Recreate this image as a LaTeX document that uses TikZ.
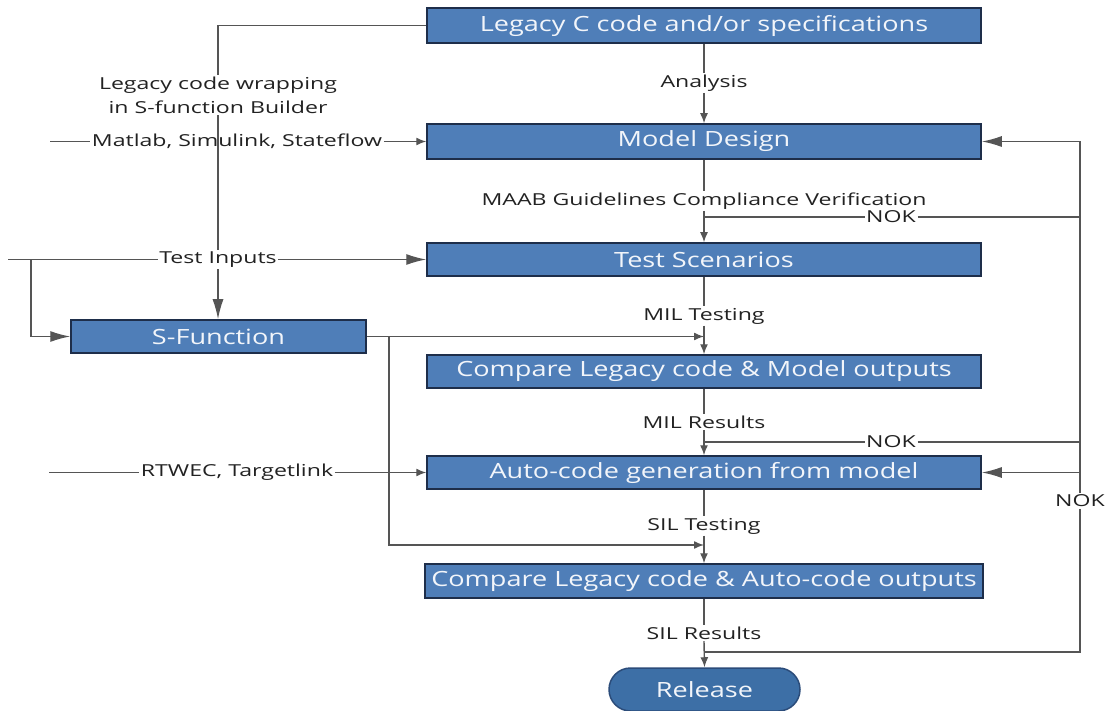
\documentclass[tikz,border=0pt]{standalone}
\usepackage{fontspec}
\setmainfont{Open Sans}
\newfontfamily\boxfont{Open Sans}[FakeStretch=1.29]
\newfontfamily\lblfont{Open Sans}[FakeStretch=1.4]
\usetikzlibrary{arrows.meta,calc}
\definecolor{boxblue}{HTML}{4F7EB8}
\definecolor{boxedge}{HTML}{1E2E4A}
\definecolor{relblue}{HTML}{3D6FA6}
\definecolor{reledge}{HTML}{2B4C7A}
\definecolor{linecol}{HTML}{555555}
\definecolor{labelcol}{HTML}{222222}
\definecolor{boxtext}{HTML}{F2F5FA}
\tikzset{
  blk/.style={draw=boxedge, line width=1.5pt, fill=boxblue, text=boxtext,
    font=\boxfont\fontsize{21}{25}\selectfont, minimum height=35, minimum width=554, inner sep=0pt},
  lbl/.style={fill=white, inner sep=1.5pt, text=labelcol, font=\lblfont\fontsize{16.5}{24}\selectfont},
  conn/.style={draw=linecol, line width=1.4pt},
  arr/.style={conn, -{Latex[length=10pt,width=8pt]}},
  arrB/.style={conn, -{Latex[length=20pt,width=11pt]}},
}
\begin{document}
\begin{tikzpicture}[x=1pt,y=-1pt]
\useasboundingbox (0,0) rectangle (1111,711);
% boxes
\node[blk] (legacy) at (704,25.5) {Legacy C code and/or specifications};
\node[blk] (model) at (704,141.5) {Model Design};
\node[blk, minimum height=33] (test) at (704,259.5) {Test Scenarios};
\node[blk, minimum height=33, minimum width=295] (sfun) at (218.5,336.5) {S-Function};
\node[blk, minimum height=33] (cmpm) at (704,371.5) {Compare Legacy code \& Model outputs};
\node[blk, minimum height=33] (auto) at (704,472.5) {Auto-code generation from model};
\node[blk, minimum height=34, minimum width=558] (cmpa) at (704,581) {Compare Legacy code \& Auto-code outputs};
\node[draw=reledge, line width=1.5pt, fill=relblue, text=boxtext, font=\boxfont\fontsize{21}{25}\selectfont,
      minimum width=191, minimum height=43, rounded corners=21.5pt, inner sep=0pt] (release) at (704.5,689.5) {Release};
% labels on centre line
\node[lbl] (ana) at (704,83) {Analysis};
\node[lbl] (maab) at (704,201) {MAAB Guidelines Compliance Verification};
\node[lbl] (milt) at (704,316) {MIL Testing};
\node[lbl] (milr) at (704,422) {MIL Results};
\node[lbl] (silt) at (704,526) {SIL Testing};
\node[lbl] (silr) at (704,633) {SIL Results};
% NOK labels
\node[lbl] (nok1) at (891,217) {NOK};
\node[lbl] (nok2) at (891,442) {NOK};
\node[lbl] (nok3) at (1080,501) {NOK};
% left labels
\node[lbl, align=center] (wrap) at (218,95) {Legacy code wrapping\\in S-function Builder};
\node[lbl] (tin) at (218,259.5) {Test Inputs};
\node[lbl] (matlab) at (237,141.5) {Matlab, Simulink, Stateflow};
\node[lbl] (rtw) at (237,472.5) {RTWEC, Targetlink};
% free ends and junctions
\coordinate (mStart) at (50,141.5);
\coordinate (tStart) at (8,259.5);
\coordinate (tBranch) at (31,259.5);
\coordinate (rStart) at (49,472.5);
\coordinate (sDown) at (389,336.5);
\coordinate (jSIL) at (704,545);
\coordinate (jRel) at (704,652);
\coordinate (rBot) at (1080,652);
% centre chain
\draw[conn] (legacy.south) -- (ana.north);
\draw[arr] (ana.south) -- (model.north);
\draw[conn] (model.south) -- (maab.north);
\draw[arr] (maab.south) -- (test.north);
\draw[conn] (test.south) -- (milt.north);
\draw[arr] (milt.south) -- (cmpm.north);
\draw[conn] (cmpm.south) -- (milr.north);
\draw[arr] (milr.south) -- (auto.north);
\draw[conn] (auto.south) -- (silt.north);
\draw[arr] (silt.south) -- (cmpa.north);
\draw[conn] (cmpa.south) -- (silr.north);
\draw[arr] (silr.south) -- (release.north);
% NOK loop on the right
\draw[arrB] (nok3.north) |- (model.east);
\draw[arrB] (auto.east -| nok3) -- (auto.east);
\draw[conn] (nok3.south) -- (rBot) -- (jRel);
\draw[conn] (nok1.east) -- (nok1.east -| nok3);
\draw[conn] (nok1.west) -- (nok1.west -| model);
\draw[conn] (nok2.east) -- (nok2.east -| nok3);
\draw[conn] (nok2.west) -- (nok2.west -| model);
% left inputs
\draw[conn] (mStart) -- (matlab.west);
\draw[arr] (matlab.east) -- (model.west);
\draw[conn] (tStart) -- (tin.west);
\draw[arrB] (tin.east) -- (test.west);
\draw[arrB] (tBranch) |- (sfun.west);
\draw[conn] (rStart) -- (rtw.west);
\draw[arr] (rtw.east) -- (auto.west);
% legacy wrapping path
\draw[conn] (legacy.west) -| (wrap.north);
\draw[conn] (wrap.south) -- (tin.north);
\draw[arrB] (tin.south) -- (tin.south |- sfun.north);
% S-function outputs
\draw[arr] (sfun.east) -- (sfun.east -| model);
\draw[arr] (sDown) |- (jSIL);
\end{tikzpicture}
\end{document}
